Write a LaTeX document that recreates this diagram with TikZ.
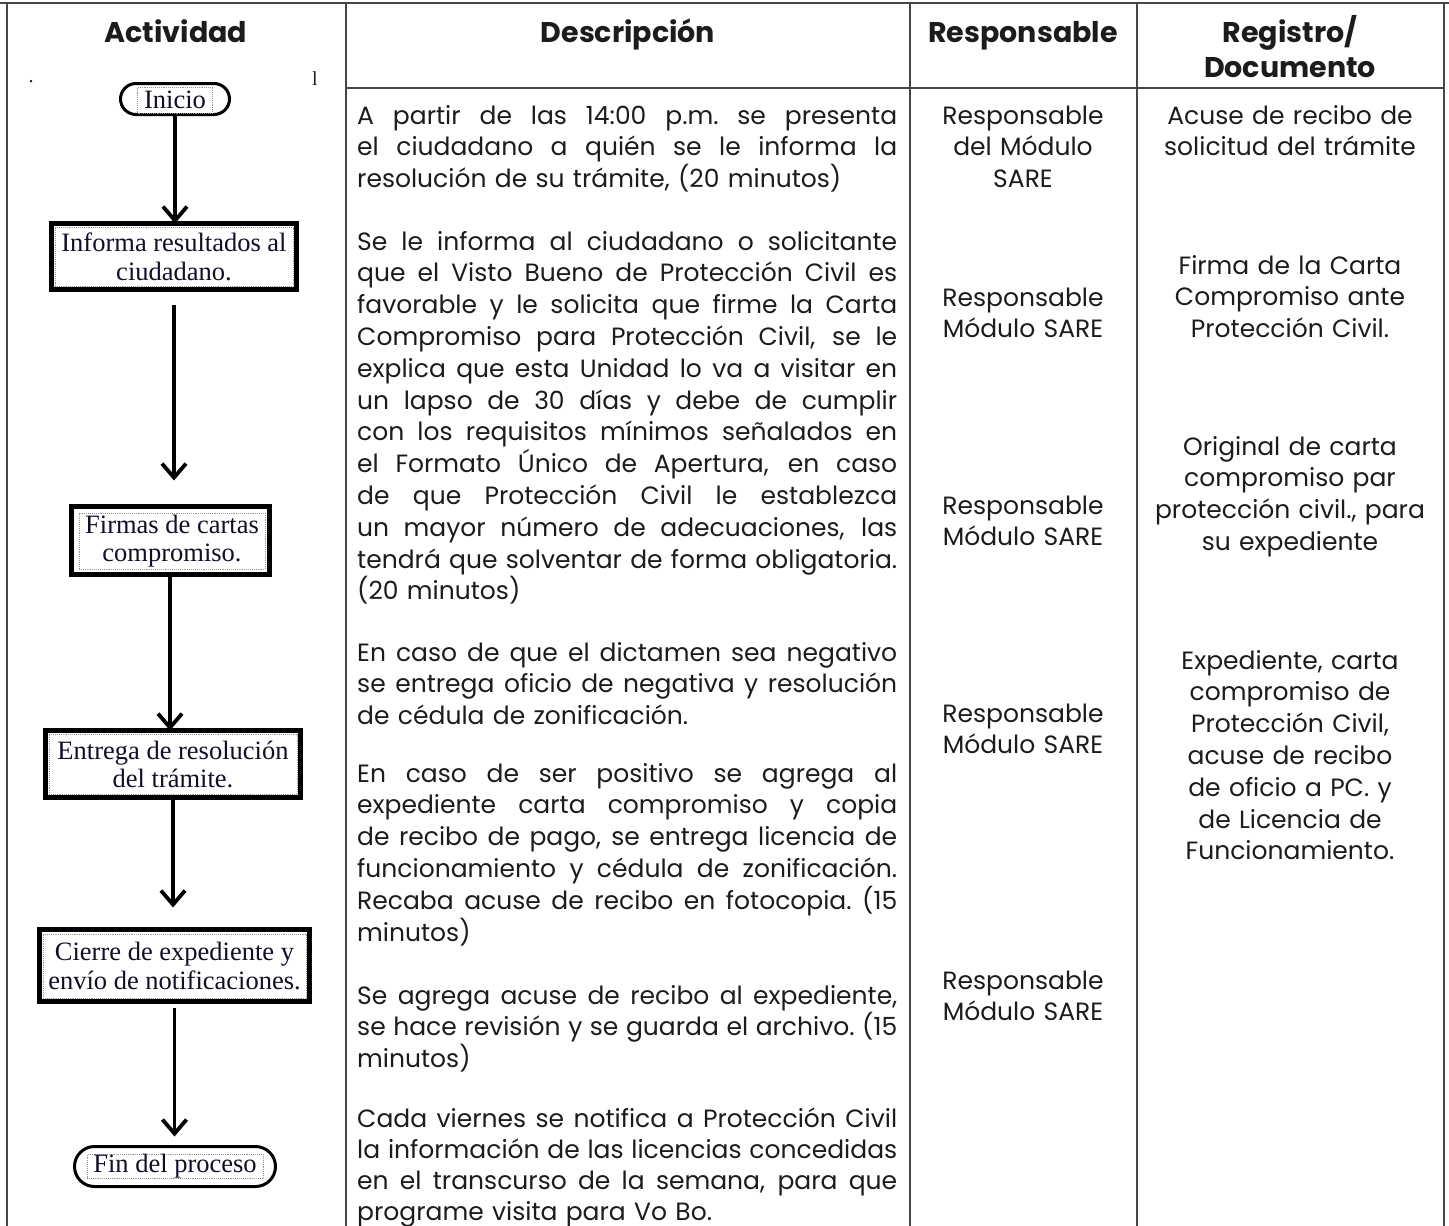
\documentclass[tikz,border=0pt]{standalone}
\usepackage{fontspec}
\setmainfont{Poppins}
\newfontfamily\serifbox{Liberation Serif}
\usetikzlibrary{arrows.meta,shapes.misc}
\definecolor{txt}{RGB}{28,28,28}
\definecolor{rulec}{RGB}{70,70,70}
\definecolor{dotc}{RGB}{150,150,150}
\definecolor{boxtxt}{RGB}{15,15,40}
\newcommand{\jl}[1]{\leavevmode\hbox to 540pt{\spaceskip=\fontdimen2\font plus 1em minus 0.12em\xspaceskip=\spaceskip #1}}
\begin{document}
\begin{tikzpicture}[x=1pt,y=-1pt,
  tab/.style={draw=rulec, line width=2pt},
  hdr/.style={font=\fontsize{28.5}{35}\selectfont\bfseries, text=txt, anchor=base, inner sep=0pt, align=center, text width=300pt},
  desc/.style={font=\fontsize{25}{31.8}\selectfont, text=txt, anchor=base west, text width=540pt, inner sep=0pt, align=left},
  descb/.style={desc, font=\fontsize{25}{31}\selectfont},
  respc/.style={font=\fontsize{25}{31.8}\selectfont, text=txt, anchor=base, inner sep=0pt, align=center, text width=220pt},
  regc/.style={font=\fontsize{25}{31.8}\selectfont, text=txt, anchor=base, inner sep=0pt, align=center, text width=300pt},
  fcin/.style={draw=dotc, densely dotted, line width=0.9pt, inner sep=0pt, font=\serifbox\fontsize{26.5}{28.5}\selectfont, align=center, text=boxtxt},
  fcout/.style={draw=black, line width=5pt, inner sep=0pt, outer sep=0pt},
  termout/.style={draw=black, line width=3pt, rounded rectangle, inner sep=0pt, outer sep=0pt},
  arr/.style={draw=black, line width=3.8pt, -{Straight Barb[length=14pt,width=24pt]}},
  stray/.style={font=\serifbox\fontsize{20}{20}\selectfont, text=txt, inner sep=0pt}
]
\useasboundingbox (0,0) rectangle (1449,1226);
\fill[white] (0,0) rectangle (1449,1226);

% table rules
\draw[tab] (0,3) -- (1449,3);
\draw[tab] (7,3) -- (7,1226);
\draw[tab] (346,3) -- (346,1226);
\draw[tab] (910,3) -- (910,1226);
\draw[tab] (1137,3) -- (1137,1226);
\draw[tab] (1444,3) -- (1444,1226);
\draw[tab] (346,88) -- (1444,88);

% headers
\node[hdr] (hA) at (176,42) {Actividad};
\node[hdr] (hD) at (628,42) {Descripción};
\node[hdr] (hR) at (1023,42) {Responsable};
\node[hdr] (hG) at (1290,42) {Registro/\\Documento};

% stray marks
\node[stray] (s1) at (31,82) {.};
\node[stray] (s2) at (315,79) {l};

% flowchart
\node[termout, minimum width=109pt, minimum height=31pt] (n0) at (175,99) {};
\node[fcin, minimum width=75pt, minimum height=26pt] (t0) at (175,100) {Inicio};

\node[fcout, minimum width=245pt, minimum height=66pt] (n1) at (174,256.5) {};
\node[fcin, minimum width=238pt, minimum height=59pt] (t1) at (174,257) {Informa resultados al\\ciudadano.};

\node[fcout, minimum width=198pt, minimum height=68pt] (n2) at (170,540.5) {};
\node[fcin, minimum width=186pt, minimum height=56pt] (t2) at (172,541) {Firmas de cartas\\compromiso.};

\node[fcout, minimum width=255pt, minimum height=67pt] (n3) at (173,764) {};
\node[fcin, minimum width=248pt, minimum height=60pt] (t3) at (173,764.5) {Entrega de resolución\\del trámite.};

\node[fcout, minimum width=270pt, minimum height=72pt] (n4) at (174.5,965.5) {};
\node[fcin, minimum width=263pt, minimum height=64pt] (t4) at (174.5,966) {Cierre de expediente y\\envío de notificaciones.};

\node[termout, minimum width=201pt, minimum height=40pt] (n5) at (175,1166.5) {};
\node[fcin, minimum width=176pt, minimum height=24pt] (t5) at (175,1166.5) {Fin del proceso};

\draw[arr] (n0.south) -- (n0.south |- n1.north);
\draw[arr, shorten <=15pt, shorten >=26pt] (n1.south) -- (n1.south |- n2.north);
\draw[arr] (n2.south) -- (n2.south |- n3.north);
\draw[arr, shorten >=22pt] (n3.south) -- (n3.south |- n4.north);
\draw[arr, shorten <=6pt, shorten >=10pt] (n4.south) -- (n4.south |- n5.north);

% description
\node[desc] (d1) at (357,124) {\jl{A partir de las 14:00 p.m. se presenta}\\
\jl{el ciudadano a quién se le informa la}\\
resolución de su trámite, (20 minutos)};

\node[desc] (d2) at (357,250) {\jl{Se le informa al ciudadano o solicitante}\\
\jl{que el Visto Bueno de Protección Civil es}\\
\jl{favorable y le solicita que firme la Carta}\\
\jl{Compromiso para Protección Civil, se le}\\
\jl{explica que esta Unidad lo va a visitar en}\\
\jl{un lapso de 30 días y debe de cumplir}\\
\jl{con los requisitos mínimos señalados en}\\
\jl{el Formato Único de Apertura, en caso}\\
\jl{de que Protección Civil le establezca}\\
\jl{un mayor número de adecuaciones, las}\\
\jl{tendrá que solventar de forma obligatoria.}\\
(20 minutos)};

\node[desc] (d3) at (357,661) {\jl{En caso de que el dictamen sea negativo}\\
\jl{se entrega oficio de negativa y resolución}\\
de cédula de zonificación.};

\node[desc] (d4) at (357,782) {\jl{En caso de ser positivo se agrega al}\\
\jl{expediente carta compromiso y copia}\\
\jl{de recibo de pago, se entrega licencia de}\\
\jl{funcionamiento y cédula de zonificación.}\\
\jl{Recaba acuse de recibo en fotocopia. (15}\\
minutos)};

\node[desc] (d5) at (357,1004) {\jl{Se agrega acuse de recibo al expediente,}\\
\jl{se hace revisión y se guarda el archivo. (15}\\
minutos)};

\node[descb] (d6) at (357,1127) {\jl{Cada viernes se notifica a Protección Civil}\\
\jl{la información de las licencias concedidas}\\
\jl{en el transcurso de la semana, para que}\\
programe visita para Vo Bo.};

% responsable
\node[respc] (r1) at (1023,124) {Responsable\\del Módulo\\SARE};
\node[respc] (r2) at (1023,306) {Responsable\\Módulo SARE};
\node[respc] (r3) at (1023,514) {Responsable\\Módulo SARE};
\node[respc] (r4) at (1023,722) {Responsable\\Módulo SARE};
\node[respc] (r5) at (1023,989) {Responsable\\Módulo SARE};

% registro
\node[regc] (g1) at (1290,124) {Acuse de recibo de\\solicitud del trámite};
\node[regc] (g2) at (1290,274) {Firma de la Carta\\Compromiso ante\\Protección Civil.};
\node[regc] (g3) at (1290,455) {Original de carta\\compromiso par\\protección civil., para\\su expediente};
\node[regc] (g4) at (1290,669) {Expediente, carta\\compromiso de\\Protección Civil,\\acuse de recibo\\de oficio a PC. y\\de Licencia de\\Funcionamiento.};
\end{tikzpicture}
\end{document}
